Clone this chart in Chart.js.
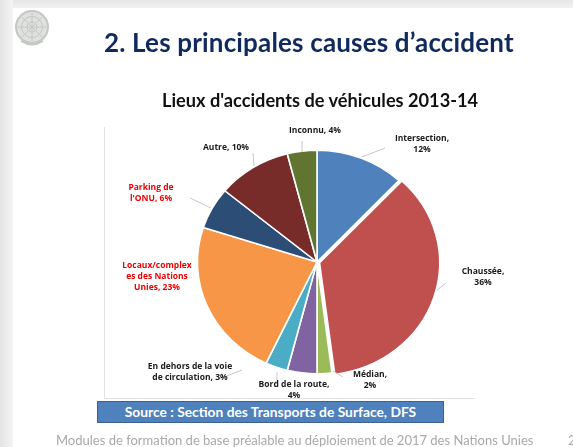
<!DOCTYPE html>
<html>
<head>
<meta charset="utf-8">
<style>
    html, body { margin: 0; padding: 0; background: #fff; }
    #page { position: relative; width: 573px; height: 447px; overflow: hidden; background: #fff; filter: blur(0.4px); }
    /* ombre grise de la diapositive */
    #shade-top { position: absolute; left: 0; top: 0; width: 573px; height: 8px; background: linear-gradient(#e6e6e6, #f1f1f1); }
    #shade-left { position: absolute; left: 0; top: 0; width: 13px; height: 447px; background: linear-gradient(90deg, #e4e4e4, #f4f4f4); }
    canvas { position: absolute; left: 0; top: 0; }
    .txt { position: absolute; white-space: nowrap; }
    #titre { left: 104px; top: 26px; font: bold 26px Lato, sans-serif; letter-spacing: 0.17px; color: #10295f; }
    #soustitre { left: 162px; top: 89px; font: bold 18.2px Lato, sans-serif; color: #111; }
    #source { left: 97px; top: 401px; width: 345px; height: 20px; text-align: center;
        background: #4f81bd; border: 1px solid #3a6190; color: #fff; font: bold 13.8px/20px Lato, sans-serif; }
    #pied { left: 56px; top: 432px; font: 13px Lato, sans-serif; color: #a9a9a9; }
    #num { left: 568px; top: 432px; font: 13px Lato, sans-serif; color: #a9a9a9; }
    #embleme { position: absolute; left: 14px; top: 10px; }
</style>
</head>
<body>
<div id="page">
    <div id="shade-top"></div>
    <div id="shade-left"></div>
    <canvas id="lieuxChart" width="573" height="447"></canvas>
    <svg id="embleme" width="38" height="36" viewBox="0 0 38 36" fill="none" stroke="#c4c8c4">
        <circle cx="18" cy="17" r="16" fill="#dfe1de" stroke-width="2"/>
        <circle cx="18" cy="17" r="10.5" stroke-width="1"/>
        <circle cx="18" cy="17" r="5" stroke-width="1"/>
        <path d="M18 3V31M4 17H32M8 7L28 27M28 7L8 27" stroke-width="1"/>
        <path d="M7 31Q18 38 29 31" stroke-width="2"/>
    </svg>
    <div class="txt" id="titre">2. Les principales causes d’accident</div>
    <div class="txt" id="soustitre">Lieux d'accidents de véhicules 2013-14</div>
    <div class="txt" id="source">Source : Section des Transports de Surface, DFS</div>
    <div class="txt" id="pied">Modules de formation de base préalable au déploiement de 2017 des Nations Unies</div>
    <div class="txt" id="num">2</div>
</div>

<script src="https://cdn.jsdelivr.net/npm/chart.js@4"></script>
<script>
const categories = ['Intersection', 'Chaussée', 'Médian', 'Bord de la route', 'En dehors de la voie de circulation', 'Locaux/complexes des Nations Unies', "Parking de l'ONU", 'Autre', 'Inconnu'];
const values = [12, 36, 2, 4, 3, 23, 6, 10, 4];
const colors = ['#4f81bd', '#c0504d', '#9bbb59', '#8064a2', '#4bacc6', '#f79646', '#2c4d75', '#772c2a', '#5f7530'];
const offsets = [0, 10, 0, 0, 0, 0, 0, 0, 0];

// Etiquettes de la diapo, ligne par ligne, avec leur trait de rappel
const labels = [
    { lines: ['Intersection,', '12%'], x: 422, y: 139, lead: [[362, 157], [385, 148]] },
    { lines: ['Chaussée,', '36%'], x: 483, y: 272, lead: [[437, 290], [446, 283]] },
    { lines: ['Médian,', '2%'], x: 370, y: 375, lead: [[333, 371], [343, 377]] },
    { lines: ['Bord de la route,', '4%'], x: 294, y: 385, lead: [[277, 372], [277, 382]] },
    { lines: ['En dehors de la voie', 'de circulation, 3%'], x: 190, y: 367, lead: [[242, 370], [219, 379]] },
    { lines: ['Locaux/complex', 'es des Nations', 'Unies, 23%'], x: 157, y: 266, color: '#f00000', lead: [] },
    { lines: ['Parking de', "l'ONU, 6%"], x: 151, y: 188, color: '#f00000', lead: [[190, 198], [211, 208]] },
    { lines: ['Autre, 10%'], x: 226, y: 148, lead: [[253, 153], [254, 166]] },
    { lines: ['Inconnu, 4%'], x: 315, y: 131, lead: [[302, 141], [302, 152]] }
];

// Le camembert est un peu étiré en largeur sur la diapo
const stretch = {
    id: 'stretch',
    beforeDatasetsDraw(chart) {
        const { ctx, chartArea } = chart;
        const cx = (chartArea.left + chartArea.right) / 2;
        ctx.save();
        ctx.translate(cx, 0);
        ctx.scale(1.07, 1);
        ctx.translate(-cx, 0);
    },
    afterDatasetsDraw(chart) {
        chart.ctx.restore();
    }
};

const slideLabels = {
    id: 'slideLabels',
    afterDraw(chart) {
        const ctx = chart.ctx;
        ctx.save();
        // cadre du graphique
        ctx.strokeStyle = '#e2e2e2';
        ctx.lineWidth = 1;
        ctx.beginPath();
        ctx.moveTo(104.5, 127);
        ctx.lineTo(104.5, 398.5);
        ctx.lineTo(475, 398.5);
        ctx.stroke();

        ctx.font = 'bold 8.5px "Open Sans", sans-serif';
        ctx.textAlign = 'center';
        ctx.textBaseline = 'middle';
        labels.forEach(l => {
            if (l.lead.length) {
                ctx.strokeStyle = '#c8c8c8';
                ctx.beginPath();
                ctx.moveTo(l.lead[0][0], l.lead[0][1]);
                ctx.lineTo(l.lead[1][0], l.lead[1][1]);
                ctx.stroke();
            }
            ctx.fillStyle = l.color || '#1a1a1a';
            l.lines.forEach((t, i) => ctx.fillText(t, l.x, l.y + i * 11));
        });
        ctx.restore();
    }
};

new Chart(document.getElementById('lieuxChart').getContext('2d'), {
    type: 'pie',
    data: {
        labels: categories,
        datasets: [{
            data: values,
            backgroundColor: colors,
            borderColor: '#ffffff',
            borderWidth: 1.5,
            offset: offsets
        }]
    },
    options: {
        responsive: false,
        animation: false,
        layout: { padding: { left: 199.5, right: 138.5, top: 144.5, bottom: 67.5 } },
        plugins: { legend: { display: false }, tooltip: { enabled: false } }
    },
    plugins: [stretch, slideLabels]
});
</script>
</body>
</html>
